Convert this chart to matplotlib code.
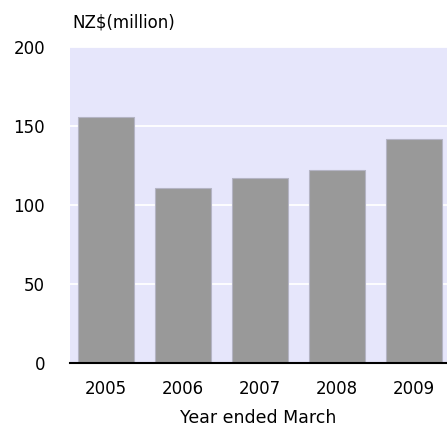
import matplotlib
matplotlib.use("Agg")
import matplotlib.pyplot as plt

years = ['2005', '2006', '2007', '2008', '2009']
values = [156, 111, 117, 122, 142]

fig = plt.figure(figsize=(4.47, 4.32), dpi=100)
ax = fig.add_axes([70/447, 69/432, 1 - 70/447, 316/432])
ax.set_facecolor('#e6e6fb')

x = range(len(years))
ax.bar(x, values, width=0.72, color='#999999', edgecolor='#b4b4c4', linewidth=0.8, zorder=3)

ax.set_ylim(0, 200)
ax.set_xlim(-0.47, 4.43)
ax.set_yticks([0, 50, 100, 150, 200])
ax.yaxis.grid(True, color='white', linewidth=1.3, zorder=1)
ax.set_xticks(list(x))
ax.set_xticklabels(years)
ax.tick_params(axis='both', length=0, labelsize=12)
ax.tick_params(axis='x', pad=12)
ax.tick_params(axis='y', pad=18)

for s in ['top', 'right', 'left']:
    ax.spines[s].set_visible(False)
ax.spines['bottom'].set_color('black')
ax.spines['bottom'].set_linewidth(1.5)
ax.spines['bottom'].set_zorder(4)

ax.set_xlabel('Year ended March', fontsize=12.5, labelpad=8)
fig.text(72/447, 1 - 22/432, 'NZ$(million)', fontsize=12, va='center', ha='left')

fig.savefig('out.png', dpi=100)
